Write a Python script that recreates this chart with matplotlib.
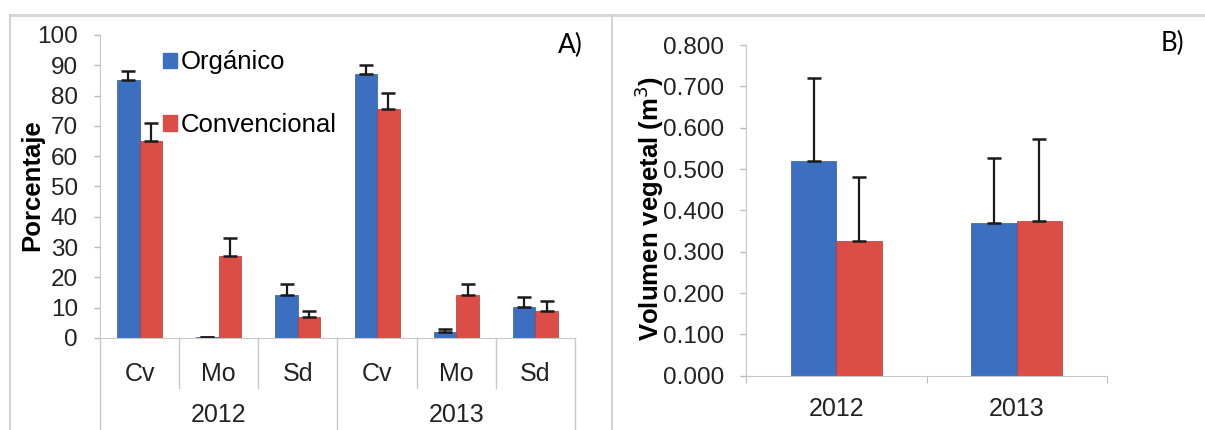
import numpy as np
import matplotlib
matplotlib.use("Agg")
import matplotlib.pyplot as plt
from matplotlib.lines import Line2D
from matplotlib.patches import Patch

plt.rcParams['font.family'] = ['Liberation Sans', 'DejaVu Sans']

# panel A data
cats = ['Cv', 'Mo', 'Sd', 'Cv', 'Mo', 'Sd']
years = ['2012', '2013']
org = [85, 0.3, 14.2, 87, 2, 10.1]
org_err = [3, 0, 3.5, 3, 1, 3.5]
conv = [65, 27, 7, 75.5, 14.2, 9]
conv_err = [6, 6, 2, 5.5, 3.5, 3.3]

# panel B data
vol_org = [0.52, 0.37]
vol_org_err = [0.2, 0.157]
vol_conv = [0.325, 0.375]
vol_conv_err = [0.155, 0.198]

blue = '#3d6fc1'
red = '#dc4d46'
grey = '#c8c8c8'
tick_fs = 17.5
lab_fs = 18.5

fig = plt.figure(figsize=(12.05, 4.3), dpi=100)

# outer frame lines
fig.add_artist(Line2D([10/1205, 1], [1-15/430, 1-15/430], color='#d4d4d4', lw=2))
fig.add_artist(Line2D([10/1205, 10/1205], [0, 1-15/430], color='#d4d4d4', lw=1.5))
fig.add_artist(Line2D([612/1205, 612/1205], [0, 1-15/430], color='#d4d4d4', lw=1.5))

ekw = dict(ecolor='#1a1a1a', elinewidth=1.6, capthick=1.8)

# ---- A ----
axA = fig.add_axes([100/1205, (430-338)/430, 475/1205, 303/430])
x = np.arange(len(cats))
w = 0.285
axA.bar(x - w/2, org, w, color=blue, edgecolor='#2f5a9e', lw=0.5,
        yerr=[np.zeros(6), org_err], capsize=4.7, error_kw=ekw)
axA.bar(x + w/2, conv, w, color=red, edgecolor='#b23a35', lw=0.5,
        yerr=[np.zeros(6), conv_err], capsize=4.7, error_kw=ekw)
axA.set_xlim(-0.5, 5.5)
axA.set_ylim(0, 100)
axA.set_yticks(np.arange(0, 101, 10))
axA.set_xticks(x)
axA.set_xticklabels(cats)
axA.tick_params(axis='x', length=0, pad=17, labelsize=18, colors='#222222')
axA.tick_params(axis='y', length=4, width=1, color='#bbbbbb', pad=12, labelsize=tick_fs, labelcolor='#222222')
for s in ['top', 'right']:
    axA.spines[s].set_visible(False)
for s in ['left', 'bottom']:
    axA.spines[s].set_color(grey)
axA.set_ylabel('Porcentaje', fontsize=lab_fs, fontweight='bold')
axA.yaxis.set_label_coords(-0.117, 0.505)

tr = axA.get_xaxis_transform()
for b in [0.5, 1.5, 3.5, 4.5]:
    axA.plot([b, b], [0, -0.165], transform=tr, color=grey, lw=1, clip_on=False)
for b in [-0.5, 2.5, 5.5]:
    axA.plot([b, b], [0, -0.31], transform=tr, color=grey, lw=1, clip_on=False)
for i, yr in enumerate(years):
    axA.text(1 + 3*i, -0.255, yr, transform=tr, ha='center', va='center',
             fontsize=18, color='#222222')

leg = axA.legend(handles=[Patch(color=blue, label='Orgánico'),
                          Patch(color=red, label='Convencional')],
                 loc='upper left', bbox_to_anchor=(0.1, 1.0), frameon=False,
                 fontsize=18.5, handlelength=0.55, handleheight=0.55,
                 handletextpad=0.15, labelspacing=1.5, borderaxespad=0.2)
axA.text(0.99, 0.967, 'A)', transform=axA.transAxes, ha='center', va='center',
         fontsize=19, family=['Lato', 'DejaVu Sans'])

# ---- B ----
axB = fig.add_axes([746/1205, (430-375.7)/430, 361/1205, 330.7/430])
xb = np.arange(len(years))
wb = 0.252
axB.bar(xb - wb/2, vol_org, wb, color=blue, edgecolor='#2f5a9e', lw=0.5,
        yerr=[np.zeros(2), vol_org_err], capsize=4.7, error_kw=ekw)
axB.bar(xb + wb/2, vol_conv, wb, color=red, edgecolor='#b23a35', lw=0.5,
        yerr=[np.zeros(2), vol_conv_err], capsize=4.7, error_kw=ekw)
axB.set_xlim(-0.5, 1.5)
axB.set_ylim(0, 0.8)
axB.set_yticks(np.arange(0, 0.81, 0.1))
axB.set_yticklabels(['%.3f' % v for v in np.arange(0, 0.81, 0.1)])
axB.set_xticks([-0.5, 0.5, 1.5])
axB.set_xticklabels([])
axB.set_xticks(xb, minor=True)
axB.set_xticklabels(years, minor=True)
axB.tick_params(axis='x', which='major', length=5, color='#bbbbbb', direction='out')
axB.tick_params(axis='x', which='minor', length=0, pad=15, labelsize=18, labelcolor='#222222')
axB.tick_params(axis='y', length=4, width=1, color='#bbbbbb', pad=12, labelsize=tick_fs, labelcolor='#222222')
for s in ['top', 'right']:
    axB.spines[s].set_visible(False)
for s in ['left', 'bottom']:
    axB.spines[s].set_color(grey)
axB.set_ylabel('Volumen vegetal (m$^3$)', fontsize=lab_fs, fontweight='bold')
axB.yaxis.set_label_coords(-0.222, 0.507)
axB.text(1.18, 1.006, 'B)', transform=axB.transAxes, ha='center', va='center',
         fontsize=18.5, family=['Lato', 'DejaVu Sans'])

fig.savefig('out.png', dpi=100)
